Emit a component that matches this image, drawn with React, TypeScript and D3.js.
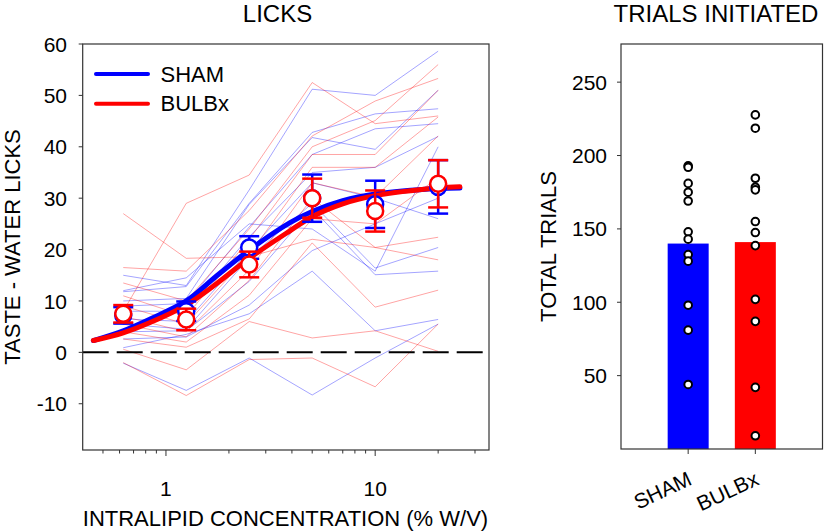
import React from "react";
import * as d3 from "d3";

// concentrations (% w/v) tested
const concentrations = [0.625, 1.25, 2.5, 5, 10, 20];

// group means and SEM for taste - water licks
const shamMean = [7.2, 8.0, 20.4, 30.0, 28.8, 32.2];
const shamSem = [1.6, 1.9, 2.2, 4.6, 4.6, 5.2];
const bulbMean = [7.5, 6.4, 17.1, 30.0, 27.5, 32.8];
const bulbSem = [1.7, 2.1, 2.5, 3.8, 4.0, 4.6];

// fitted curves
const fitX = [0.45, 0.625, 0.84, 1.25, 1.75, 2.5, 3.9, 5, 7, 10, 20, 25.4];
const shamFit = [2.3, 4.2, 6.5, 10.0, 14.9, 19.9, 25.2, 27.4, 29.5, 30.8, 31.9, 32.0];
const bulbFit = [2.3, 3.8, 5.8, 9.2, 13.4, 18.3, 23.6, 26.4, 28.9, 30.5, 32.0, 32.2];

// individual animals
const shamSubjects = [
  [15.0, 13.0, 31.6, 51.2, 50.0, 58.6],
  [11.8, 12.8, 29.0, 42.8, 46.4, 47.4],
  [10.0, 10.5, 28.8, 41.8, 39.5, 51.0],
  [9.0, 9.5, 24.4, 38.5, 43.5, 44.5],
  [8.0, 8.0, 22.5, 35.0, 36.0, 42.0],
  [6.5, 6.0, 19.8, 33.0, 30.0, 26.0],
  [5.5, 4.5, 18.4, 29.0, 16.4, 20.4],
  [4.0, 4.2, 13.8, 28.0, 15.1, 15.8],
  [2.6, 3.0, 9.2, 19.8, 25.0, 30.0],
  [0.9, 3.5, 7.5, 15.8, 4.2, 6.4],
  [-2.1, -7.4, -1.1, -8.3, -1.1, 5.5],
  [12.0, 14.5, 25.0, 24.0, 15.8, 40.0],
];
const bulbSubjects = [
  [27.0, 18.3, 18.6, 22.0, 20.4, 18.0],
  [8.0, 29.0, 34.5, 52.5, 44.5, 46.0],
  [16.5, 15.8, 27.6, 42.1, 48.9, 53.3],
  [13.5, 10.0, 24.0, 40.0, 45.1, 56.0],
  [11.0, 7.0, 22.0, 38.5, 38.5, 51.0],
  [9.0, 5.5, 19.0, 36.0, 36.0, 45.8],
  [7.0, 4.0, 16.0, 33.0, 30.2, 42.1],
  [5.5, 3.0, 14.0, 30.0, 20.4, 22.4],
  [4.0, 2.0, 11.1, 26.0, 25.0, 34.0],
  [2.6, 1.0, 6.5, 21.3, 8.8, 12.1],
  [0.6, -3.4, 6.0, 2.8, 4.2, 0.2],
  [-2.0, -8.4, -1.4, -1.1, -6.7, 5.5],
];

const lickTicks = [-10, 0, 10, 20, 30, 40, 50, 60];
const majorX = [1, 10];
const minorX = [0.5, 0.6, 0.7, 0.8, 0.9, 2, 3, 4, 5, 6, 7, 8, 9, 20, 30];

// trials initiated
const groups = ["SHAM", "BULBx"];
const trialMeans = [140, 141];
const shamTrials = [193, 192, 181, 175, 169, 148, 143, 132.5, 128, 98, 81, 44];
const bulbTrials = [227.7, 218.6, 184.5, 178.4, 176.6, 155, 147.5, 138.6, 102, 87, 42, 9];
const trialTicks = [50, 100, 150, 200, 250];

const BLUE = "#0000ff";
const RED = "#ff0000";
const FONT = "'Liberation Sans', Arial, Helvetica, sans-serif";
const FRAME = "#333";

const L = { left: 82.7, right: 489, top: 44, bottom: 450 };
const R = { left: 621, right: 822.5, top: 44, bottom: 449 };

const x = d3.scaleLog().domain([0.4, 35]).range([L.left, L.right]);
const y = d3.scaleLinear().domain([-19, 60]).range([L.bottom, L.top]);
const yT = d3.scaleLinear().domain([0, 276]).range([R.bottom, R.top]);
const xT = d3.scalePoint<string>().domain(groups).range([R.left, R.right]).padding(1);

const subjLine = d3
  .line<number>()
  .x((_d, i) => x(concentrations[i]))
  .y((d) => y(d));

const fitLine = (vals: number[]) =>
  d3
    .line<number>()
    .x((_d, i) => x(fitX[i]))
    .y((d) => y(d))
    .curve(d3.curveCatmullRom.alpha(0.5))(vals) ?? "";

const MeanPoints: React.FC<{ mean: number[]; sem: number[]; color: string }> = ({ mean, sem, color }) => (
  <g>
    {mean.map((m, i) => {
      const cx = x(concentrations[i]);
      const hi = y(m + sem[i]);
      const lo = y(m - sem[i]);
      return (
        <g key={i} stroke={color} strokeWidth={2.5}>
          <line x1={cx} x2={cx} y1={hi} y2={lo} />
          <line x1={cx - 10} x2={cx + 10} y1={hi} y2={hi} />
          <line x1={cx - 10} x2={cx + 10} y1={lo} y2={lo} />
          <circle cx={cx} cy={y(m)} r={8} fill="#fff" />
        </g>
      );
    })}
  </g>
);

export default function App() {
  const barW = 41;
  return (
    <svg
      width={826}
      height={532}
      style={{ position: "absolute", left: 0, top: 0, background: "#fff" }}
      fontFamily={FONT}
    >
      {/* ---------- LICKS panel ---------- */}
      <text x={277.5} y={22} fontSize={24} textAnchor="middle">
        LICKS
      </text>

      <g>
        {shamSubjects.map((s, i) => (
          <path key={"s" + i} d={subjLine(s) ?? ""} fill="none" stroke={BLUE} strokeOpacity={0.45} strokeWidth={0.8} />
        ))}
        {bulbSubjects.map((s, i) => (
          <path key={"b" + i} d={subjLine(s) ?? ""} fill="none" stroke={RED} strokeOpacity={0.45} strokeWidth={0.8} />
        ))}
      </g>

      <line x1={L.left} x2={L.right} y1={y(0)} y2={y(0)} stroke="#000" strokeWidth={2} strokeDasharray="26 8" />

      <path d={fitLine(shamFit)} fill="none" stroke={BLUE} strokeWidth={5} strokeLinecap="round" />
      <path d={fitLine(bulbFit)} fill="none" stroke={RED} strokeWidth={5} strokeLinecap="round" />

      <MeanPoints mean={shamMean} sem={shamSem} color={BLUE} />
      <MeanPoints mean={bulbMean} sem={bulbSem} color={RED} />

      <rect x={L.left} y={L.top} width={L.right - L.left} height={L.bottom - L.top} fill="none" stroke={FRAME} strokeWidth={1.2} />

      {lickTicks.map((t) => (
        <g key={t}>
          <line x1={L.left - 4} x2={L.left} y1={y(t)} y2={y(t)} stroke={FRAME} strokeWidth={1} />
          <text x={67} y={y(t)} dy="0.36em" fontSize={21} textAnchor="end">
            {t}
          </text>
        </g>
      ))}
      {minorX.map((t) => (
        <line key={t} x1={x(t)} x2={x(t)} y1={L.bottom} y2={L.bottom + 3.5} stroke={FRAME} strokeWidth={1} />
      ))}
      {majorX.map((t) => (
        <g key={t}>
          <line x1={x(t)} x2={x(t)} y1={L.bottom} y2={L.bottom + 6} stroke={FRAME} strokeWidth={1} />
          <text x={x(t)} y={496} fontSize={21} textAnchor="middle">
            {t}
          </text>
        </g>
      ))}

      <text x={285.5} y={526} fontSize={22} textAnchor="middle">
        INTRALIPID CONCENTRATION (% W/V)
      </text>
      <text transform={`translate(20,${(L.top + L.bottom) / 2}) rotate(-90)`} fontSize={22} textAnchor="middle">
        TASTE - WATER LICKS
      </text>

      {/* legend */}
      <line x1={96} x2={148} y1={74} y2={74} stroke={BLUE} strokeWidth={4} strokeLinecap="round" />
      <line x1={96} x2={148} y1={103.7} y2={103.7} stroke={RED} strokeWidth={4} strokeLinecap="round" />
      <text x={160.5} y={82} fontSize={22}>
        SHAM
      </text>
      <text x={160.5} y={111} fontSize={22}>
        BULBx
      </text>

      {/* ---------- TRIALS panel ---------- */}
      <text x={716} y={22} fontSize={24} textAnchor="middle">
        TRIALS INITIATED
      </text>

      {groups.map((g, i) => (
        <rect
          key={g}
          x={(xT(g) ?? 0) - barW / 2}
          y={yT(trialMeans[i])}
          width={barW}
          height={yT(0) - yT(trialMeans[i])}
          fill={i === 0 ? BLUE : RED}
        />
      ))}

      {[shamTrials, bulbTrials].map((vals, gi) =>
        vals.map((v, j) => (
          <circle
            key={gi + "-" + j}
            cx={xT(groups[gi]) ?? 0}
            cy={yT(v)}
            r={3.8}
            fill="#fff"
            stroke="#000"
            strokeWidth={2}
          />
        ))
      )}

      <rect x={R.left} y={R.top} width={R.right - R.left} height={R.bottom - R.top} fill="none" stroke={FRAME} strokeWidth={1.2} />

      {trialTicks.map((t) => (
        <g key={t}>
          <line x1={R.left - 4} x2={R.left} y1={yT(t)} y2={yT(t)} stroke={FRAME} strokeWidth={1} />
          <text x={607} y={yT(t)} dy="0.36em" fontSize={21} textAnchor="end">
            {t}
          </text>
        </g>
      ))}
      {groups.map((g) => (
        <g key={g}>
          <line x1={xT(g) ?? 0} x2={xT(g) ?? 0} y1={R.bottom} y2={R.bottom + 5} stroke={FRAME} strokeWidth={1} />
          <text
            transform={`translate(${(xT(g) ?? 0) + 5},484) rotate(-25)`}
            fontSize={21}
            textAnchor="end"
          >
            {g}
          </text>
        </g>
      ))}
      <text transform={`translate(556,${(R.top + R.bottom) / 2}) rotate(-90)`} fontSize={22} textAnchor="middle">
        TOTAL TRIALS
      </text>
    </svg>
  );
}
